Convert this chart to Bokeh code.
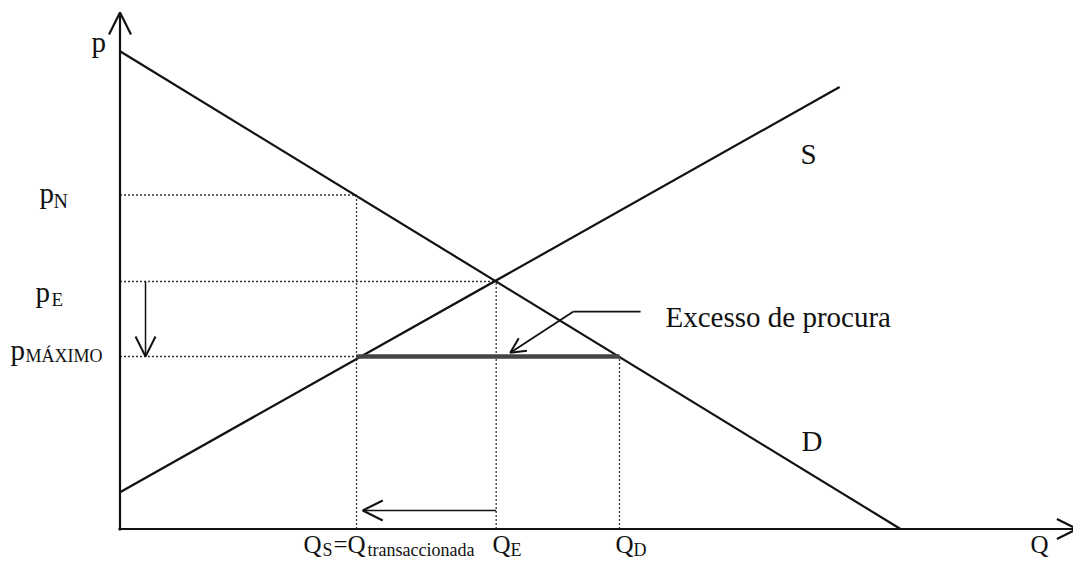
from bokeh.plotting import figure
from bokeh.models import Range1d, Arrow, OpenHead, ColumnDataSource
from bokeh.core.properties import value
from bokeh.embed import file_html
from bokeh.resources import INLINE

# ---- data (economic model) ----
demand_Q = [0.0, 100.0]
demand_p = [100.0, 0.0]
supply_Q = [0.0, 92.2]
supply_p = [7.7, 92.5]

p_N = 69.9
p_E = 51.8
p_max = 36.1
Q_S = 30.3
Q_E = 48.2
Q_D = 64.0

Q_axis_end = 122.6
p_axis_end = 108.1

# arrow annotations (Q, p)
down_arrow_Q = 3.27
left_arrow_p = 3.87
left_arrow_Q_end = 31.1
pointer_Q = [66.7, 58.1, 50.0]
pointer_p = [45.5, 45.5, 36.9]

# ---- calibration of the canvas ----
W, H = 1073, 559
X0, SX = 119.5, 7.805   # canvas px of Q=0, px per Q unit
Y0, SY = 528.5, 4.778   # canvas px of p=0, px per p unit
BASE_SHIFT = 0.32       # text renders this many em below its anchor


def qx(px):
    return (px - X0) / SX


def py(ypx):
    return (Y0 - ypx) / SY


p = figure(width=W, height=H, output_backend="svg", toolbar_location=None,
           x_axis_location=None, y_axis_location=None, min_border=0,
           x_range=Range1d(qx(0), qx(W)), y_range=Range1d(py(H), py(0)))
p.grid.visible = False
p.outline_line_color = None
p.background_fill_color = "white"
p.border_fill_color = "white"

INK = "#111111"

# dotted guide lines
guide_xs = [[0, Q_S], [0, Q_E], [0, Q_S], [Q_S, Q_S], [Q_E, Q_E], [Q_D, Q_D]]
guide_ys = [[p_N, p_N], [p_E, p_E], [p_max, p_max], [0, p_N], [0, p_E], [0, p_max]]
p.multi_line(guide_xs, guide_ys, line_color="#333333", line_width=1.3, line_dash="2 2")

# demand and supply
p.line(demand_Q, demand_p, line_color=INK, line_width=2.2)
p.line(supply_Q, supply_p, line_color=INK, line_width=2.2)

# excess demand bar
p.line([Q_S, Q_D], [p_max, p_max], line_color="#444444", line_width=4.5)

# axes with arrow heads
p.add_layout(Arrow(x_start=0, y_start=-0.3, x_end=0, y_end=p_axis_end,
                   line_color=INK, line_width=2.2,
                   end=OpenHead(size=22, line_width=2.2, line_color=INK)))
p.add_layout(Arrow(x_start=-0.2, y_start=0, x_end=Q_axis_end, y_end=0,
                   line_color=INK, line_width=2.2,
                   end=OpenHead(size=20, line_width=2.2, line_color=INK)))

# price fall arrow
p.add_layout(Arrow(x_start=down_arrow_Q, y_start=p_E, x_end=down_arrow_Q, y_end=p_max,
                   line_color=INK, line_width=1.5,
                   end=OpenHead(size=20, line_width=2, line_color=INK)))
# quantity fall arrow
p.add_layout(Arrow(x_start=Q_E, y_start=left_arrow_p, x_end=left_arrow_Q_end, y_end=left_arrow_p,
                   line_color=INK, line_width=1.5,
                   end=OpenHead(size=20, line_width=2, line_color=INK)))
# pointer to excess demand
p.line(pointer_Q[:2], pointer_p[:2], line_color=INK, line_width=1.8)
p.add_layout(Arrow(x_start=pointer_Q[1], y_start=pointer_p[1], x_end=pointer_Q[2], y_end=pointer_p[2],
                   line_color=INK, line_width=1.8,
                   end=OpenHead(size=15, line_width=2, line_color=INK)))

FONT = "Liberation Serif"
labels = [
    # text, left px, baseline px, size
    ("p", 91, 51, 29),
    ("p", 39, 202, 29), ("N", 53, 207, 20),
    ("p", 35, 301, 29), ("E", 51, 305, 19),
    ("p", 10, 359, 29), ("MÁXIMO", 25, 361.5, 18),
    ("Q", 303, 552, 25), ("S", 322, 555, 18), ("=", 333, 552, 25),
    ("Q", 347, 552, 25), ("transaccionada", 367, 555, 18),
    ("Q", 492, 552, 25), ("E", 510, 555, 18),
    ("Q", 615, 552, 25), ("D", 633, 555, 18),
    ("Q", 1030, 552, 25),
    ("S", 800, 163, 29),
    ("D", 801, 450, 29),
    ("Excesso de procura", 665, 326, 29),
]
src = ColumnDataSource(dict(
    x=[qx(l[1]) for l in labels],
    y=[py(l[2] - BASE_SHIFT * l[3]) for l in labels],
    text=[l[0] for l in labels],
    size=[f"{l[3]}px" for l in labels],
))
p.text(x="x", y="y", text="text", source=src, text_font=value(FONT),
       text_font_size="size", text_color=INK,
       text_align="left", text_baseline="alphabetic")

open("out.html", "w").write(file_html(p, INLINE))
